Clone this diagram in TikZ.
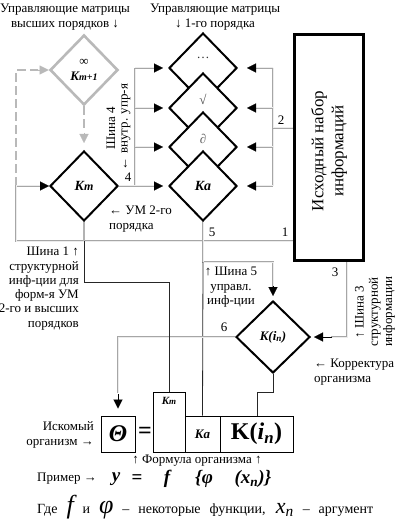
\documentclass[tikz,border=0pt]{standalone}
\usepackage{fontspec}
\setmainfont{Liberation Serif}
\usetikzlibrary{shapes.geometric,arrows.meta}
\newcommand{\myfs}{\fontsize{13}{14.3}\selectfont}
\newcommand{\bi}{\bfseries\itshape}
\begin{document}
\begin{tikzpicture}[x=1pt,y=-1pt,
  every node/.style={inner sep=0pt, font=\myfs},
  kd/.style={diamond, draw=black, line width=2pt, fill=white, minimum width=68pt, minimum height=70pt, inner sep=0pt},
  kdg/.style={kd, draw=gray!55, line width=2.6pt},
  bus/.style={draw=gray!70, double=gray!15, line width=0.9pt, double distance=1pt},
  thinl/.style={draw=black!85, line width=0.8pt},
  thing/.style={draw=gray!60, line width=1.6pt},
  dbus/.style={draw=gray!55, line width=2.6pt, dash pattern=on 9pt off 4pt},
  tip/.style={-{Triangle[length=9pt,width=9pt]}, line width=0.1pt, draw=black, fill=black},
  tipg/.style={-{Triangle[length=9pt,width=9pt]}, line width=0.1pt, draw=gray!55, fill=gray!55},
  fbox/.style={draw, line width=1pt, inner sep=0pt}
]
\useasboundingbox (0,0) rectangle (400,529);

% top labels
\node[align=center] (tl) at (65,17) {Управляющие матрицы\\высших порядков ↓};
\node[align=center] (tr) at (215,17) {Управляющие матрицы\\↓ 1-го порядка};

% diamonds
\node[kdg, align=center] (kmp) at (84,70) {∞\\[1pt]{\fontsize{13}{14}\selectfont\bi K{\fontsize{10}{12}\selectfont m+1}}};
\node[kd] (km) at (84,186) {\fontsize{14}{14}\selectfont\bi K{\fontsize{12}{12}\selectfont m}};

\node[kd] (d1) at (203,68) {};
\node[text=black!80] (t1) at (203,58) {…};
\node[kd] (d2) at (203,108) {};
\node[text=black!70] (t2) at (203,99) {√};
\node[kd] (d3) at (203,147) {};
\node[text=black!60] (t3) at (203,139) {∂};
\node[kd] (ka) at (203,186) {\fontsize{14}{14}\selectfont\bi Ka};

\node[kd, minimum width=74pt, minimum height=72pt] (kin) at (273,337) {\fontsize{13}{14}\selectfont\bi K(i\textsubscript{n})};

% info box
\node[draw, line width=3pt, minimum width=69pt, minimum height=226pt] (info) at (329,147.5) {};
\node[rotate=90, align=center, font=\fontsize{17}{20}\selectfont] (infot) at (329,151) {Исходный набор\\информаций};

% formula boxes
\node[fbox, minimum width=34pt, minimum height=36pt] (theta) at (118,434) {\fontsize{24}{24}\selectfont\bi Θ};
\node[font=\fontsize{24}{24}\selectfont\bfseries] (eq) at (145,433) {=};
\node[fbox, minimum width=32pt, minimum height=60pt] (kmb) at (169,422) {};
\node (kmbt) at (169,401) {\fontsize{11}{12}\selectfont\bi K{\fontsize{9}{10}\selectfont m}};
\node[fbox, minimum width=35pt, minimum height=36pt] (kab) at (202.5,434) {\fontsize{13}{14}\selectfont\bi Ka};
\node[fbox, minimum width=73pt, minimum height=36pt] (kinb) at (256.5,434) {\fontsize{24}{24}\selectfont\bfseries K(\textit{i}\textsubscript{\textit{n}})};

% coordinates
\coordinate (b1l) at (16,241);
\coordinate (b1u) at (16,186);
\coordinate (b1d) at (16,70);
\coordinate (b4t) at (135,68);
\coordinate (b4b) at (135,186);
\coordinate (b2t) at (273,68);
\coordinate (b2b) at (273,186);
\coordinate (b2m) at (273,128);

% bus 1 and dashed to Km+1
\draw[dbus] (b1u) -- (b1d) -- (38,70);
\draw[tipg] (38,70) -- (kmp.west);
\draw[bus] (info.west |- b1l) -- (b1l) -- (b1u) -- (40,186);
\draw[tip] (40,186) -- (km.west);
\draw[dbus] (kmp.south) -- (84,129);
\draw[tipg] (84,133) -- ([yshift=7pt]km.north);

% bus 4
\draw[bus] (b4t) -- (b4b);
\foreach \d/\yy in {d1/68, d2/108, d3/147}{
  \draw[bus] (135,\yy) -- (156,\yy);
  \draw[tip] (155,\yy) -- ([xshift=-5pt]\d.west);
}
\draw[bus] (km.east) -- (156,186);
\draw[tip] (155,186) -- ([xshift=-5pt]ka.west);

% bus 2
\draw[bus] (b2t) -- (b2b);
\foreach \d/\yy in {d1/68, d2/108, d3/147, ka/186}{
  \draw[bus] (273,\yy) -- (252,\yy);
  \draw[tip] (253,\yy) -- ([xshift=9pt]\d.east);
}
\draw[bus] (b2m) -- (info.west |- b2m);

% bus 5
\draw[bus] (ka.south) -- (203,262) -- (273,262) -- (273,287);
\draw[tip] (273,286) -- ([yshift=4pt]kin.north);
\draw[thinl] (203,262) -- (kab.north);

% bus 3
\draw[bus] (info.south -| 347,0) -- (347,337) -- (331,337);
\draw[tip] (332,337) -- ([xshift=3pt]kin.east);

% bus 6
\draw[bus] (kin.west) -- (118,337) -- (118,393);
\draw[tip] (118,394) -- ([yshift=7pt]theta.north);

% Km line
\draw[thing] (km.south) -- (84,241);
\draw[thinl] (84,241) -- (84,282) -- (169,282) -- (kmb.north);

% K(in) line
\draw[thinl] (kin.south) -- (273,392) -- (257,392) -- (257,416);

% numbers
\node (n4) at (128,177) {4};
\node (n2) at (281,120) {2};
\node (n1) at (285,232) {1};
\node (n5) at (212,232) {5};
\node (n3) at (335,272) {3};
\node (n6) at (224,327) {6};

% bus labels
\node[rotate=90] (s4a) at (111,128) {Шина 4};
\node[rotate=90] (s4b) at (126,127) {← внутр. упр-я};
\node[align=left, anchor=north west] (um2) at (109,206) {← УМ 2-го\\порядка};
\node[align=right, anchor=north east] (s1) at (79,247) {Шина 1 ↑\\структурной\\инф-ции для\\форм-я УМ\\2-го и высших\\порядков};
\node[align=center, anchor=north] (s5) at (231,267) {↑ Шина 5\\управл.\\инф-ции};
\node[rotate=90, align=center] (s3) at (375,312) {↑ Шина 3\\структурной\\информации};
\node[align=left, anchor=north west] (korr) at (314,359) {← Корректура\\ организма};

% formula labels
\node[align=right, anchor=east] (isk) at (94,435) {Искомый\\организм →};
\node (form) at (197,461) {↑ Формула организма ↑};
\node[anchor=east] (prim) at (97,479) {Пример →};
\node[font=\fontsize{19}{20}\selectfont\bi] (fy) at (116,479) {y};
\node[font=\fontsize{19}{20}\selectfont\bfseries] (feq) at (137,479) {=};
\node[font=\fontsize{19}{20}\selectfont\bi] (ff) at (167,479) {f};
\node[font=\fontsize{19}{20}\selectfont\bi] (fphi) at (204,479) {\{φ};
\node[font=\fontsize{19}{20}\selectfont\bi] (fx) at (253,479) {(x\textsubscript{n})\}};
\node[anchor=west, font=\fontsize{14}{16}\selectfont] (gde) at (37,507) {\makebox[336pt][s]{Где {\fontsize{26}{26}\selectfont\itshape f} и {\fontsize{26}{26}\selectfont\itshape φ} – некоторые функции, {\fontsize{22}{22}\selectfont\itshape x\textsubscript{n}} – аргумент}};
\end{tikzpicture}
\end{document}
